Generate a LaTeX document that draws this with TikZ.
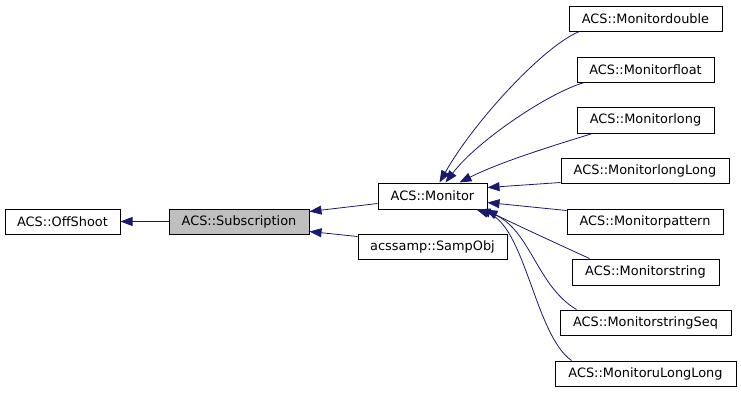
\documentclass[tikz,border=0pt]{standalone}
\usepackage{fontspec}
\setmainfont{DejaVu Sans}
\usetikzlibrary{arrows.meta,calc}
\definecolor{edgeblue}{RGB}{25,25,112}
\definecolor{curgrey}{RGB}{191,191,191}
\begin{document}
\begin{tikzpicture}[x=1pt,y=-1pt,
  cls/.style={draw=black, line width=1pt, rectangle, inner sep=0pt, fill=white,
    font=\fontsize{12.9}{15}\selectfont},
  edge/.style={draw=edgeblue, line width=0.8pt,
    -{Triangle[length=12pt,width=9pt,fill=edgeblue]}}]
\useasboundingbox (0,0) rectangle (741,392);
% nodes
\node[cls, minimum width=115, minimum height=25] (off) at (62.5,221.5) {ACS::OffShoot};
\node[cls, fill=curgrey, minimum width=140, minimum height=25] (sub) at (239,221.5) {ACS::Subscription};
\node[cls, minimum width=109, minimum height=26] (mon) at (432.5,196) {ACS::Monitor};
\node[cls, minimum width=149, minimum height=25] (samp) at (432.5,246.5) {acssamp::SampObj};
\node[cls, minimum width=153, minimum height=25] (md) at (645.5,18.5) {ACS::Monitordouble};
\node[cls, minimum width=137, minimum height=25] (mf) at (645.5,69.5) {ACS::Monitorfloat};
\node[cls, minimum width=137, minimum height=26] (ml) at (645.5,120) {ACS::Monitorlong};
\node[cls, minimum width=168, minimum height=25] (mll) at (645,170.5) {ACS::MonitorlongLong};
\node[cls, minimum width=156, minimum height=25] (mp) at (645,221.5) {ACS::Monitorpattern};
\node[cls, minimum width=147, minimum height=26] (ms) at (645.5,272) {ACS::Monitorstring};
\node[cls, minimum width=171, minimum height=25] (mss) at (645.5,322.5) {ACS::MonitorstringSeq};
\node[cls, minimum width=181, minimum height=25] (mul) at (645.5,373.5) {ACS::MonitoruLongLong};
% edges
\draw[edge] (sub.west) -- (off.east);
\draw[edge] ($(mon.south west)+(0,-6)$) -- ($(sub.north east)+(0,3)$);
\draw[edge] ($(samp.north west)+(0,3)$) -- ($(sub.south east)+(0,-3)$);
\draw[edge] ($(md.south west)+(11,0)$) .. controls (545,45) and (475,120) .. ($(mon.north west)+(62,0)$);
\draw[edge] ($(mf.south west)+(8,0)$) .. controls (550,92) and (478,140) .. ($(mon.north west)+(68,0)$);
\draw[edge] ($(ml.south west)+(16,0)$) .. controls (555,145) and (500,162) .. ($(mon.north west)+(82,0)$);
\draw[edge] ($(mll.south west)+(0,-1)$) -- ($(mon.north east)+(0,5)$);
\draw[edge] ($(mp.north west)+(0,2)$) -- ($(mon.north east)+(0,20)$);
\draw[edge] ($(ms.north west)+(18,0)$) .. controls (560,245) and (510,222) .. ($(mon.south east)+(-2,0)$);
\draw[edge] ($(mss.north west)+(17,0)$) .. controls (535,285) and (530,225) .. ($(mon.south east)+(-9,0)$);
\draw[edge] ($(mul.north west)+(17,0)$) .. controls (535,335) and (525,225) .. ($(mon.south east)+(-11,0)$);
\end{tikzpicture}
\end{document}
